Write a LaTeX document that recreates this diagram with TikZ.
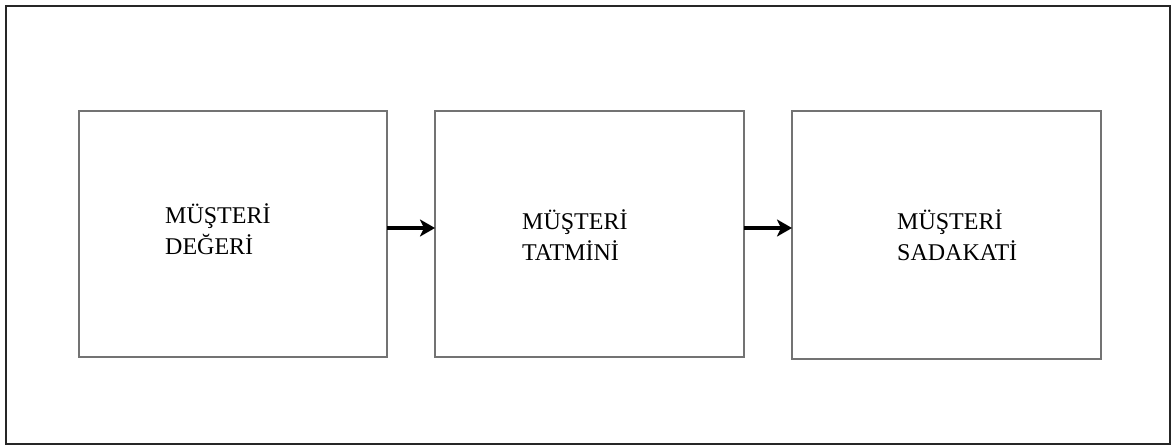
\documentclass[tikz,border=0pt]{standalone}
\usepackage{fontspec}
\setmainfont{Liberation Serif}
\usetikzlibrary{arrows.meta,calc}
\begin{document}
\begin{tikzpicture}[x=1pt,y=-1pt,
  frame/.style={draw=black!85,line width=2pt},
  stage/.style={draw=black!55,line width=1.2pt},
  label/.style={anchor=base west,inner sep=0pt,align=left,
    font=\fontsize{24}{31}\selectfont},
  flow/.style={line width=3.5pt,-{Stealth[length=15pt,width=17pt,inset=4pt]}}]
  \useasboundingbox (0,0) rectangle (1172,447);
  % outer frame
  \draw[frame] (6,6) rectangle (1170,444);
  % the three stages
  \draw[stage] (79,111) rectangle (387,357);
  \draw[stage] (435,111) rectangle (744,357);
  \draw[stage] (792,111) rectangle (1101,359);
  \coordinate (b1e) at (387,228);
  \coordinate (b2w) at (435,228);
  \coordinate (b2e) at (744,228);
  \coordinate (b3w) at (792,228);
  % labels, anchored at the baseline of their last line
  \node[label] (t1) at (165,254) {MÜŞTERİ\\DEĞERİ};
  \node[label] (t2) at (522,260) {MÜŞTERİ\\TATMİNİ};
  \node[label] (t3) at (897,260) {MÜŞTERİ\\SADAKATİ};
  % arrows between stages
  \draw[flow] (b1e) -- (b2w);
  \draw[flow] (b2e) -- (b3w);
\end{tikzpicture}
\end{document}
